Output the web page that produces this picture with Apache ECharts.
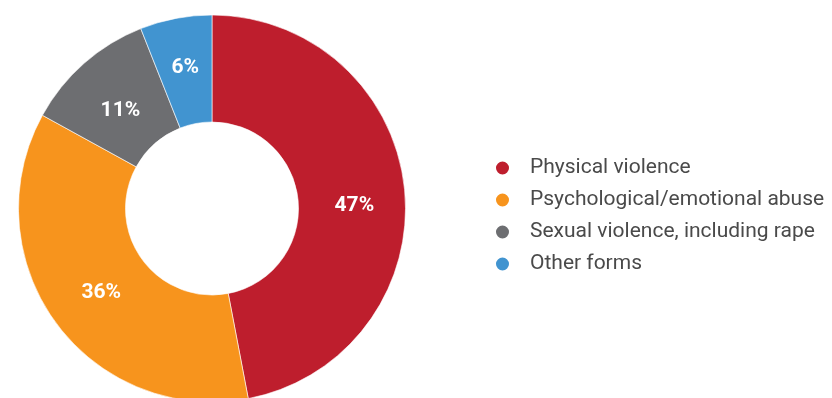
<!DOCTYPE html>
<html>
<head>
<meta charset="utf-8">
<script src="https://cdn.jsdelivr.net/npm/echarts@6/dist/echarts.min.js"></script>
<style>
html,body{margin:0;padding:0;background:#fff;}
#chart{width:832px;height:398px;}
</style>
</head>
<body>
<div id="chart"></div>
<script>
var categories = ["Physical violence", "Psychological/emotional abuse", "Sexual violence, including rape", "Other forms"];
var values = [47, 36, 11, 6];
var colors = ["#BE1E2D", "#F7941D", "#6D6E71", "#4194D0"];
var labelOffsets = [[0, 11], [5, 0], [3, 10], [0, 0]];

var chart = echarts.init(document.getElementById('chart'), null, {renderer: 'canvas'});
chart.setOption({
  animation: false,
  color: colors,
  legend: {
    orient: 'vertical',
    left: 489,
    top: 152,
    icon: 'circle',
    itemWidth: 15,
    itemHeight: 15,
    itemGap: 10,
    data: categories,
    textStyle: {
      fontFamily: 'Roboto',
      fontSize: 21,
      lineHeight: 22,
      color: '#4a4a4a',
      padding: [0, 0, 0, 15]
    }
  },
  series: [{
    type: 'pie',
    center: [212, 208.5],
    radius: [86.5, 193.5],
    startAngle: 90,
    clockwise: true,
    avoidLabelOverlap: false,
    itemStyle: {borderColor: '#ffffff', borderWidth: 0.6},
    label: {
      show: true,
      position: 'inside',
      formatter: '{c}%',
      color: '#ffffff',
      fontFamily: 'Roboto',
      fontWeight: 'bold',
      fontSize: 21
    },
    labelLine: {show: false},
    emphasis: {disabled: true},
    data: categories.map(function (c, i) {
      return {name: c, value: values[i], label: {offset: labelOffsets[i]}};
    })
  }]
});
</script>
</body>
</html>
